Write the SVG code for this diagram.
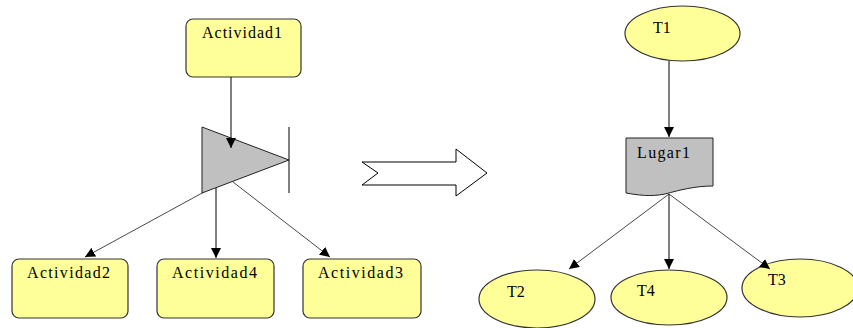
<svg xmlns="http://www.w3.org/2000/svg" width="853" height="328" viewBox="0 0 853 328">
<style>
.box{fill:#FFFF99;stroke:#333;stroke-width:1.2}
.gray{fill:#C0C0C0;stroke:#222;stroke-width:1}
.t{font-family:"Liberation Serif","Times New Roman",serif;font-size:16px;fill:#000}
.c{stroke:#000;stroke-width:1;fill:none}
.cd{stroke:#333;stroke-width:0.9;fill:none}
</style>
<defs>
<marker id="ah" viewBox="0 0 10 10" refX="10" refY="5" markerWidth="10" markerHeight="10" markerUnits="userSpaceOnUse" orient="auto">
<path d="M0,0 L10,5 L0,10 z" fill="#000"/>
</marker>
</defs>
<rect width="853" height="328" fill="#fff"/>
<g id="actividad1">
<rect class="box" x="186" y="19" width="115" height="58" rx="7"/>
<text class="t" x="202" y="38" textLength="80" lengthAdjust="spacing">Actividad1</text>
</g>
<g id="transicion">
<polygon class="gray" points="202,127 289,160 202,193"/>
<line class="c" x1="289" y1="127" x2="289" y2="193"/>
</g>
<g id="actividad2">
<rect class="box" x="12" y="259" width="116" height="59" rx="7"/>
<text class="t" x="27" y="278" textLength="83" lengthAdjust="spacing">Actividad2</text>
</g>
<g id="actividad4">
<rect class="box" x="157" y="259" width="117" height="59" rx="7"/>
<text class="t" x="172" y="278" textLength="85" lengthAdjust="spacing">Actividad4</text>
</g>
<g id="actividad3">
<rect class="box" x="303" y="259" width="118" height="59" rx="7"/>
<text class="t" x="318" y="278" textLength="85" lengthAdjust="spacing">Actividad3</text>
</g>
<g id="flecha">
<polygon points="362,162 456,162 456,149 487,173 456,196 456,185 362,185 378,173" fill="#fff" stroke="#000" stroke-width="1"/>
</g>
<g id="t1">
<ellipse class="box" cx="682.5" cy="33.5" rx="57.5" ry="27.5"/>
<text class="t" x="653" y="33">T1</text>
</g>
<g id="lugar1">
<path class="gray" d="M626,138 L713,138 L713,186 C695,186 680,190 665,194 C650,197 638,195 626,193 Z"/>
<text class="t" x="637" y="158" textLength="53" lengthAdjust="spacing">Lugar1</text>
</g>
<g id="t2">
<ellipse class="box" cx="537" cy="299" rx="58" ry="29"/>
<text class="t" x="507" y="297">T2</text>
</g>
<g id="t4">
<ellipse class="box" cx="669" cy="297.5" rx="58" ry="27.5"/>
<text class="t" x="637" y="296">T4</text>
</g>
<g id="t3">
<ellipse class="box" cx="800" cy="288" rx="58" ry="29"/>
<text class="t" x="768" y="285">T3</text>
</g>
<g id="connectors">
<line class="c" x1="231" y1="77" x2="231" y2="148" marker-end="url(#ah)"/>
<line class="cd" x1="204" y1="192" x2="85" y2="257" marker-end="url(#ah)"/>
<line class="c" x1="216" y1="188" x2="216" y2="258" marker-end="url(#ah)"/>
<line class="cd" x1="233" y1="182" x2="330" y2="257" marker-end="url(#ah)"/>
<line class="c" x1="669" y1="61" x2="669" y2="137" marker-end="url(#ah)"/>
<line class="cd" x1="669" y1="194" x2="569" y2="269" marker-end="url(#ah)"/>
<line class="c" x1="669" y1="194" x2="669" y2="269" marker-end="url(#ah)"/>
<line class="cd" x1="669" y1="194" x2="770" y2="269" marker-end="url(#ah)"/>
</g>
</svg>
